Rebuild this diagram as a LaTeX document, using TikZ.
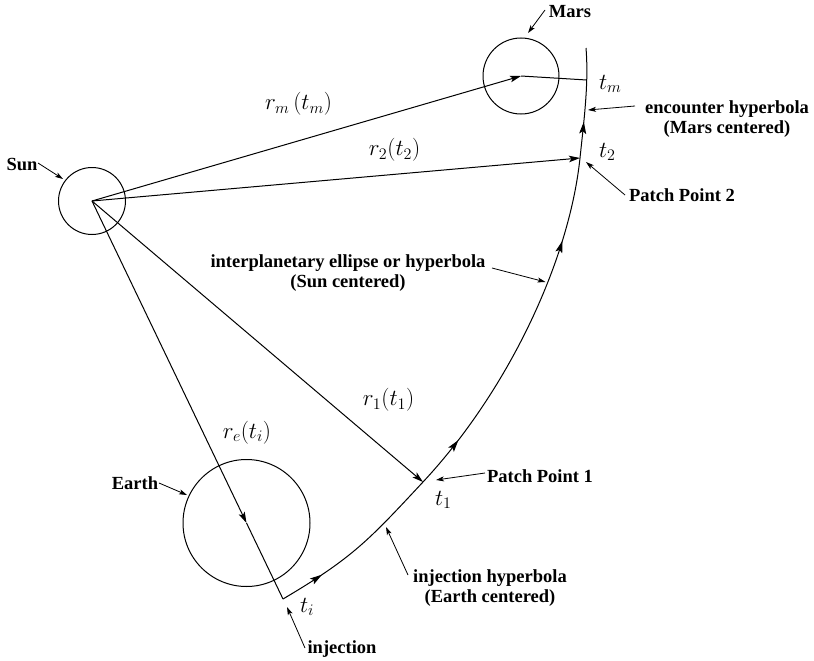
\RequirePackage{fix-cm}
\documentclass[tikz,border=0pt]{standalone}
\usepackage{fontspec}
\newfontfamily\lblfont{Liberation Serif}
\usetikzlibrary{arrows.meta,decorations.markings}

\tikzset{
  vectip/.tip={Stealth[length=11pt,width=6.5pt,inset=2.5pt]},
  midtip/.tip={Stealth[length=12pt,width=7pt,inset=2.5pt]},
  ptrtip/.tip={Stealth[length=8pt,width=5pt,inset=2pt]},
  % a trajectory leg with direction arrows at the given fractions
  leg/.style 2 args={line width=1pt,postaction={decorate},decoration={markings,
      mark=at position #1 with {\arrow{midtip}},
      mark=at position #2 with {\arrow{midtip}}}},
  leg1/.style={line width=1pt,postaction={decorate},decoration={markings,
      mark=at position #1 with {\arrow{midtip}}}},
}

\begin{document}
\begin{tikzpicture}[x=1pt,y=-1pt,
  every node/.style={inner sep=0pt,outer sep=0pt},
  body/.style={circle,draw,line width=1pt,inner sep=0pt},
  vec/.style={line width=1pt,-vectip},
  plainline/.style={line width=1pt},
  ptr/.style={line width=0.8pt,-ptrtip},
  lbl/.style={font=\lblfont\bfseries\fontsize{18.5}{20.5}\selectfont,align=center},
  mlbl/.style={font=\fontsize{23}{27}\selectfont},
]
\useasboundingbox (0,0) rectangle (814,661);

% bodies
\node[body,minimum size=67pt]  (sun)   at (92,201)    {};
\node[body,minimum size=76pt]  (mars)  at (521,76)    {};
\node[body,minimum size=127pt] (earth) at (246.5,523) {};

% points on the trajectory
\coordinate (inj) at (283,599);
\coordinate (p1)  at (423,482);
\coordinate (p2)  at (580,158);
\coordinate (pm)  at (586.8,80);
\coordinate (top) at (586,48);

% trajectory: injection, interplanetary and encounter legs
\draw[leg1=0.25] (inj) .. controls (352.7,557.7) and (367.8,541.2) .. (p1);
\draw[leg={0.15}{0.768}] (p1) .. controls (506.1,393) and (568.9,263.4) .. (p2);
\draw[leg1=0.33] (p2) .. controls (584.2,118.2) and (588.8,83) .. (top);

% radius vectors from the Sun
\draw[vec] (sun.center) -- (mars.center);
\draw[plainline] (mars.center) -- (pm);
\draw[vec] (sun.center) -- (p2);
\draw[vec] (sun.center) -- (p1);
\draw[vec] (sun.center) -- (earth.center);
\draw[plainline] (earth.center) -- (inj);

% vector labels
\node[mlbl] (rm) at (298.5,104) {$r_m\,(t_m)$};
\node[mlbl] (r2) at (394.5,150) {$r_2(t_2)$};
\node[mlbl] (r1) at (388.5,400) {$r_1(t_1)$};
\node[mlbl] (re) at (247,432.5) {$r_e(t_i)$};

% time labels
\node[mlbl,anchor=base west] (tm) at (599,89)  {$t_m$};
\node[mlbl,anchor=base west] (t2) at (599,157) {$t_2$};
\node[mlbl,anchor=base west] (t1) at (435,505) {$t_1$};
\node[mlbl,anchor=base west] (ti) at (300,612) {$t_i$};

% pointer targets
\coordinate (suntip)  at (63,179);
\coordinate (marstip) at (528,33);
\coordinate (earthtip) at (187,495);
\coordinate (enctip)  at (588,110);
\coordinate (pp2tip)  at (586,162);
\coordinate (ipltip)  at (545.5,282);
\coordinate (pp1tip)  at (436,480);
\coordinate (ihtip)   at (386,527);
\coordinate (injtip)  at (287,607);

% bold labels
\node[lbl,anchor=base] (sunl)   at (22,170)  {Sun};
\node[lbl,anchor=base] (marsl)  at (570,18)  {Mars};
\node[lbl,anchor=base] (earthl) at (135,489) {Earth};
\node[lbl,anchor=north] (encl)  at (727,100.4) {encounter hyperbola\\(Mars centered)};
\node[lbl,anchor=base] (pp2l)   at (682,201) {Patch Point 2};
\node[lbl,anchor=north] (ipll)  at (348,254.4) {interplanetary ellipse or hyperbola\\(Sun centered)};
\node[lbl,anchor=base] (pp1l)   at (540,482) {Patch Point 1};
\node[lbl,anchor=north] (ihl)   at (490,569.4) {injection hyperbola\\(Earth centered)};
\node[lbl,anchor=base] (injl)   at (342,653) {injection};

% pointers
\draw[ptr] (38,163) -- (suntip);
\draw[ptr] (545,10) -- (marstip);
\draw[ptr] (159,483) -- (earthtip);
\draw[ptr] (635,106) -- (enctip);
\draw[ptr] (625,195) -- (pp2tip);
\draw[ptr] (492,268) -- (ipltip);
\draw[ptr] (485,473) -- (pp1tip);
\draw[ptr] (408,575) -- (ihtip);
\draw[ptr] (305,648) -- (injtip);
\end{tikzpicture}
\end{document}
